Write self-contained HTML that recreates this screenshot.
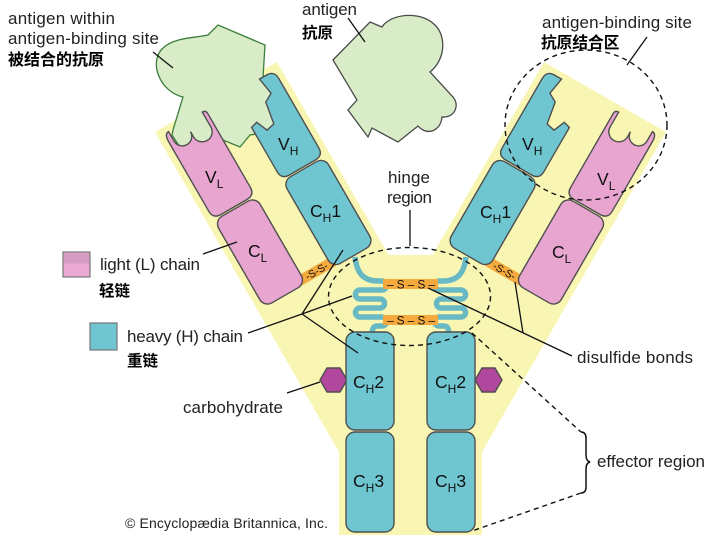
<!DOCTYPE html>
<html><head><meta charset="utf-8">
<style>
html,body{margin:0;padding:0;background:#fff;}
svg{display:block;}
.t{font-family:"Liberation Sans",sans-serif;font-size:17px;fill:#222;}
.c{font-family:"Liberation Sans","Noto Sans CJK SC",sans-serif;font-weight:bold;font-size:16px;fill:#000;}
.lb{font-family:"Liberation Sans",sans-serif;font-size:17.5px;fill:#111;}
.sb{font-size:12px;}
.ss{font-family:"Liberation Sans",sans-serif;fill:#111;}
.box{stroke:#4f4f4f;stroke-width:1.4;}
.ln{stroke:#111;stroke-width:1.3;fill:none;}
.dash{stroke:#111;stroke-width:1.4;fill:none;stroke-dasharray:5 4;}
</style></head><body>
<svg width="718" height="546" viewBox="0 0 718 546" xmlns="http://www.w3.org/2000/svg">
<rect width="718" height="546" fill="#fff"/>

<!-- yellow Y background -->
<polygon points="155,132 277,62 388.5,255 432.5,255 544,62 666,132 482,452 482,535 339,535 339,452" fill="#f9f6b3"/>

<!-- bound antigen (left) -->
<path d="M208,35 L218,25 L265,45 L263,78 L278,95 L280,130 L250,135 L240,147 L218,138 L215,155 L185,155 L172,135 L173,130 L183,97 C160,92 148,62 163,48 C175,37 196,38 208,35 Z" fill="#d8ecc8" stroke="#3b7d3b" stroke-width="1.3"/>

<!-- free antigen (center) -->
<path d="M370,22 L382,27 C390,14 420,10 435,25 C447,37 445,60 430,72 L453,97 C460,105 455,118 442,117 C441,130 428,137 418,126 L398,142 L372,128 L368,137 L348,110 L357,100 L333,60 Z" fill="#d8ecc8" stroke="#4a4a4a" stroke-width="1.3"/>

<!-- hinge strands -->
<path d="M355,257 C357,275 365,281 378,281 L382,281 A4.5,4.5 0 0 1 382,290 L360,290 A4.5,4.5 0 0 0 360,299 L380,299 A4.5,4.5 0 0 1 380,308 L360,308 A4.5,4.5 0 0 0 360,317 L382,317 A4.5,4.5 0 0 1 382,326 L377,326 Q372,326 372,335" fill="none" stroke="#68b9c4" stroke-width="5.5"/>
<path transform="translate(821,0) scale(-1,1)" d="M355,257 C357,275 365,281 378,281 L382,281 A4.5,4.5 0 0 1 382,290 L360,290 A4.5,4.5 0 0 0 360,299 L380,299 A4.5,4.5 0 0 1 380,308 L360,308 A4.5,4.5 0 0 0 360,317 L382,317 A4.5,4.5 0 0 1 382,326 L377,326 Q372,326 372,335" fill="none" stroke="#68b9c4" stroke-width="5.5"/>

<!-- central disulfide bars -->
<rect x="383" y="279" width="55" height="10" fill="#f4aa3c"/>
<rect x="383" y="315" width="55" height="10" fill="#f4aa3c"/>
<text class="ss" x="387" y="288.3" font-size="12" textLength="48" lengthAdjust="spacing">–S–S–</text>
<text class="ss" x="387" y="324.3" font-size="12" textLength="48" lengthAdjust="spacing">–S–S–</text>

<!-- left arm -->
<g transform="translate(260,252) rotate(-30)">
  <rect x="20" y="39.5" width="39" height="10.5" fill="#f4aa3c"/>
  <path class="box" fill="#e7a5cf" d="M-24,-141 Q-24,-150 -19,-150 L-19,-139 A9.5,9.5 0 0 0 0,-139 L0,-133 A10,10 0 0 0 20,-133 L20,-150 Q24,-150 24,-146 L24,-61 Q24,-52 15,-52 L-15,-52 Q-24,-52 -24,-61 Z"/>
  <rect class="box" fill="#e7a5cf" x="-24" y="-50" width="48" height="100" rx="9"/>
  <path class="box" fill="#6fc6d0" d="M86,-150 L94,-150 Q103,-150 103,-141 L103,-61 Q103,-52 94,-52 L64,-52 Q55,-52 55,-61 L55,-112 L62,-114 L67,-102 L76,-104 L80,-127 L89,-132 Z"/>
  <rect class="box" fill="#6fc6d0" x="55" y="-50" width="48" height="100" rx="9"/>
  <text class="ss" x="39.5" y="48.3" font-size="10.5" text-anchor="middle">-S-S-</text>
</g>

<!-- right arm (mirror) -->
<g transform="translate(821,0) scale(-1,1) translate(260,252) rotate(-30)">
  <rect x="20" y="39.5" width="39" height="10.5" fill="#f4aa3c"/>
  <path class="box" fill="#e7a5cf" d="M-24,-141 Q-24,-150 -19,-150 L-19,-139 A9.5,9.5 0 0 0 0,-139 L0,-133 A10,10 0 0 0 20,-133 L20,-150 Q24,-150 24,-146 L24,-61 Q24,-52 15,-52 L-15,-52 Q-24,-52 -24,-61 Z"/>
  <rect class="box" fill="#e7a5cf" x="-24" y="-50" width="48" height="100" rx="9"/>
  <path class="box" fill="#6fc6d0" d="M86,-150 L94,-150 Q103,-150 103,-141 L103,-61 Q103,-52 94,-52 L64,-52 Q55,-52 55,-61 L55,-112 L62,-114 L67,-102 L76,-104 L80,-127 L89,-132 Z"/>
  <rect class="box" fill="#6fc6d0" x="55" y="-50" width="48" height="100" rx="9"/>
</g>
<text class="ss" transform="translate(504.5,270.8) rotate(30)" x="0" y="3.8" font-size="10.5" text-anchor="middle">-S-S-</text>

<!-- carbohydrates -->
<polygon class="box" fill="#b2489e" points="320,380 327,368 340,368 347,380 340,392 327,392"/>
<polygon class="box" fill="#b2489e" points="475,380 482,368 495,368 502,380 495,392 482,392"/>

<!-- stem boxes -->
<rect class="box" fill="#6fc6d0" x="346" y="332" width="48" height="98" rx="9"/>
<rect class="box" fill="#6fc6d0" x="346" y="432" width="48" height="100" rx="9"/>
<rect class="box" fill="#6fc6d0" x="427" y="332" width="48" height="98" rx="9"/>
<rect class="box" fill="#6fc6d0" x="427" y="432" width="48" height="100" rx="9"/>

<!-- domain labels -->
<text class="lb" x="205" y="183">V<tspan class="sb" dy="5">L</tspan></text>
<text class="lb" x="278" y="150">V<tspan class="sb" dy="5">H</tspan></text>
<text class="lb" x="248" y="257">C<tspan class="sb" dy="5">L</tspan></text>
<text class="lb" x="310" y="217">C<tspan class="sb" dy="5">H</tspan><tspan dy="-5">1</tspan></text>
<text class="lb" x="522" y="150">V<tspan class="sb" dy="5">H</tspan></text>
<text class="lb" x="597" y="185">V<tspan class="sb" dy="5">L</tspan></text>
<text class="lb" x="480" y="218">C<tspan class="sb" dy="5">H</tspan><tspan dy="-5">1</tspan></text>
<text class="lb" x="552" y="258">C<tspan class="sb" dy="5">L</tspan></text>
<text class="lb" x="353" y="388">C<tspan class="sb" dy="5">H</tspan><tspan dy="-5">2</tspan></text>
<text class="lb" x="435" y="388">C<tspan class="sb" dy="5">H</tspan><tspan dy="-5">2</tspan></text>
<text class="lb" x="353" y="487">C<tspan class="sb" dy="5">H</tspan><tspan dy="-5">3</tspan></text>
<text class="lb" x="435" y="487">C<tspan class="sb" dy="5">H</tspan><tspan dy="-5">3</tspan></text>

<!-- dashed outlines -->
<ellipse class="dash" cx="409.5" cy="296.5" rx="81" ry="49"/>
<ellipse class="dash" cx="586" cy="125" rx="81" ry="75"/>
<line class="dash" x1="472" y1="333" x2="581" y2="432"/>
<line class="dash" x1="581" y1="493" x2="472" y2="531"/>
<path d="M581,432 Q586,432 586,438 L586,455 Q586,461 590,462 Q586,463 586,469 L586,487 Q586,493 581,493" fill="none" stroke="#111" stroke-width="1.5"/>

<!-- leader lines -->
<line class="ln" x1="153" y1="52" x2="173" y2="68"/>
<line class="ln" x1="348" y1="18" x2="365" y2="42"/>
<line class="ln" x1="647" y1="37" x2="627" y2="65"/>
<line class="ln" x1="410" y1="210" x2="410" y2="246"/>
<line class="ln" x1="203" y1="254" x2="237" y2="242"/>
<line class="ln" x1="248" y1="333" x2="302" y2="314"/>
<line class="ln" x1="302" y1="314" x2="343" y2="250"/>
<line class="ln" x1="302" y1="314" x2="352" y2="296"/>
<line class="ln" x1="302" y1="314" x2="358" y2="353"/>
<line class="ln" x1="287" y1="393" x2="320" y2="382"/>
<line class="ln" x1="572" y1="356" x2="428" y2="288"/>
<line class="ln" x1="523" y1="333" x2="515" y2="282"/>

<!-- legend -->
<rect x="63" y="252" width="27" height="25" fill="#e9a9d3" stroke="#777" stroke-width="1.2"/>
<rect x="63.6" y="252.6" width="25.8" height="11" fill="#d69cc3"/>
<rect x="90" y="323" width="27" height="27" fill="#6fc6d0" stroke="#777" stroke-width="1.2"/>

<!-- text labels -->
<text class="t" x="8" y="24" textLength="107" lengthAdjust="spacing">antigen within</text>
<text class="t" x="8" y="44" textLength="151" lengthAdjust="spacing">antigen-binding site</text>
<text class="c" x="8" y="65">被结合的抗原</text>
<text class="t" x="302" y="15" textLength="55" lengthAdjust="spacing">antigen</text>
<text class="c" x="302" y="38" style="font-size:15.5px">抗原</text>
<text class="t" x="542" y="28" textLength="150" lengthAdjust="spacing">antigen-binding site</text>
<text class="c" x="541" y="48" style="font-size:15.7px">抗原结合区</text>
<text class="t" x="388" y="183" textLength="42" lengthAdjust="spacing">hinge</text>
<text class="t" x="387" y="203" textLength="45" lengthAdjust="spacing">region</text>
<text class="t" x="100" y="270" textLength="100" lengthAdjust="spacing">light (L) chain</text>
<text class="c" x="99" y="296" style="font-size:15.5px">轻链</text>
<text class="t" x="127" y="342" textLength="116" lengthAdjust="spacing">heavy (H) chain</text>
<text class="c" x="127" y="366" style="font-size:15.5px">重链</text>
<text class="t" x="183" y="413" textLength="100" lengthAdjust="spacing">carbohydrate</text>
<text class="t" x="577" y="363" textLength="116" lengthAdjust="spacing">disulfide bonds</text>
<text class="t" x="597" y="467" textLength="108" lengthAdjust="spacing">effector region</text>
<text class="t" x="125" y="528" style="font-size:14px" textLength="203" lengthAdjust="spacing">© Encyclopædia Britannica, Inc.</text>
</svg>
</body></html>
